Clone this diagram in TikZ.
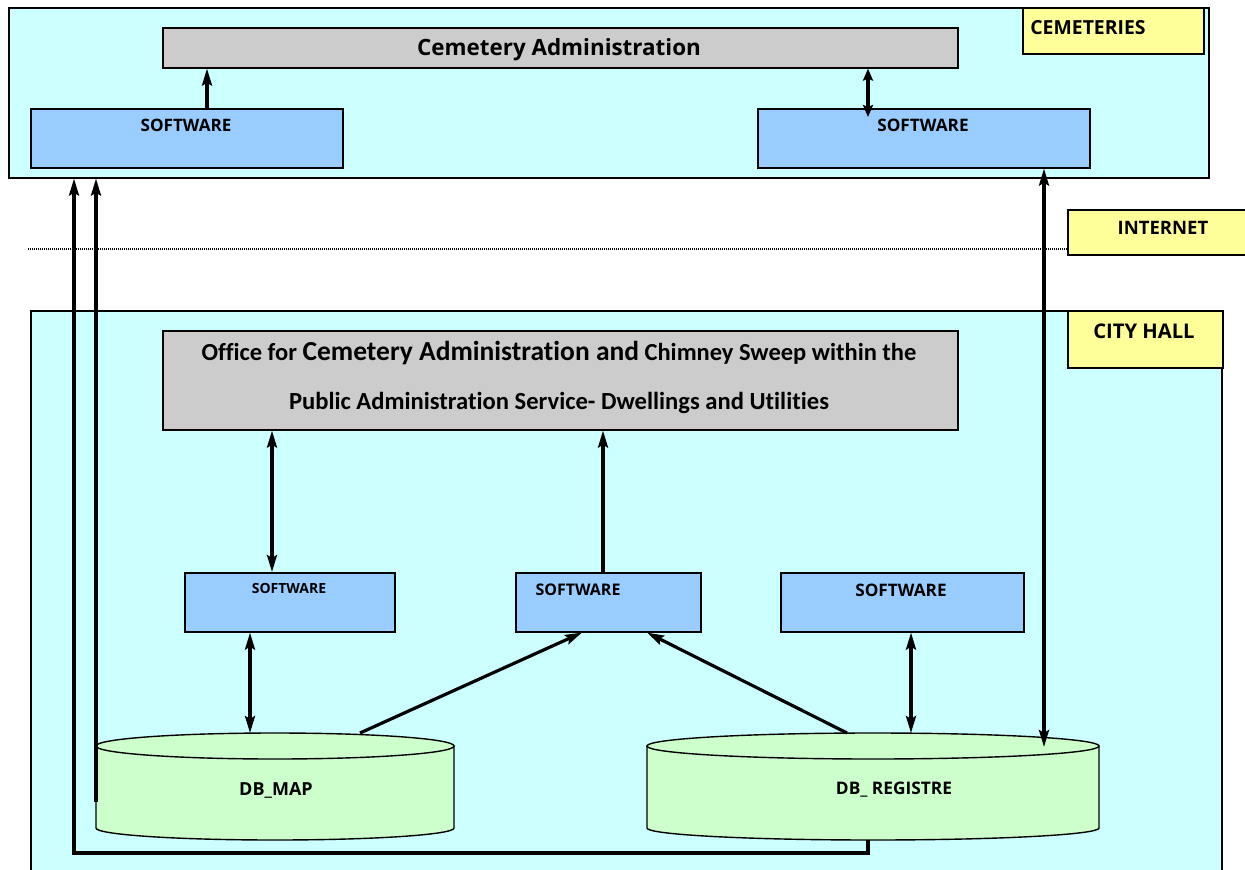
\documentclass[tikz,border=0pt]{standalone}
\usepackage{fontspec}
\setmainfont{Open Sans}[Ligatures=NoCommon]
\newfontfamily\calfont{Carlito}[Ligatures=NoCommon]
\usetikzlibrary{arrows.meta}

\definecolor{zonefill}{HTML}{CCFFFF}
\definecolor{adminfill}{HTML}{CCCCCC}
\definecolor{softfill}{HTML}{99CCFF}
\definecolor{tagfill}{HTML}{FFFF99}
\definecolor{dbfill}{HTML}{CCFFCC}

\tikzset{
  box/.style={draw=black, line width=1.6pt, inner sep=0pt, anchor=north west},
  zone/.style={box, fill=zonefill},
  admin/.style={box, fill=adminfill},
  soft/.style={box, fill=softfill},
  tag/.style={box, fill=tagfill},
  lbl/.style={font=\bfseries, inner sep=0pt},
  link/.style={line width=3.2pt},
  arr/.style={link, -{Stealth[length=17pt,width=10pt,inset=3pt]}},
  darr/.style={link, {Stealth[length=17pt,width=10pt,inset=3pt]}-{Stealth[length=17pt,width=10pt,inset=3pt]}},
  sarr/.style={link, {Stealth[length=12pt,width=10pt,inset=2pt]}-{Stealth[length=12pt,width=10pt,inset=2pt]}},
  db/.style={draw=black, line width=1.4pt, fill=dbfill},
}

\begin{document}
\begin{tikzpicture}[x=1pt,y=-1pt]
\useasboundingbox (0,0) rectangle (1245,870);
\clip (0,0) rectangle (1245,870);

% ---------- cemeteries ----------
\node[zone, minimum width=1200pt, minimum height=170pt] (cemzone) at (8,7) {};
\node[admin, minimum width=795pt, minimum height=40pt] (cemadmin) at (162,27) {};
\node[lbl, font=\bfseries\fontsize{22.4}{26}\selectfont] (cemadmintxt) at (559,50) {Cemetery Administration};
\node[tag, minimum width=181pt, minimum height=46pt] (cemtag) at (1022,7) {};
\node[lbl, font=\bfseries\fontsize{19.4}{23}\selectfont] (cemtagtxt) at (1088,28) {CEMETERIES};
\node[soft, minimum width=312pt, minimum height=59pt] (swa) at (30,108) {};
\node[lbl, font=\bfseries\fontsize{17.1}{20}\selectfont] (swatxt) at (186,125) {SOFTWARE};
\node[soft, minimum width=332pt, minimum height=59pt] (swb) at (757,108) {};
\node[lbl, font=\bfseries\fontsize{17.2}{20}\selectfont] (swbtxt) at (923,125) {SOFTWARE};

% ---------- internet ----------
\node[tag, minimum width=190pt, minimum height=45pt] (nettag) at (1067,209) {};
\node[lbl, font=\bfseries\fontsize{18.5}{22}\selectfont] (nettagtxt) at (1163,228) {INTERNET};
\coordinate (netstart) at (28,249);
\coordinate (netend) at (1067,249);
\draw[line width=1.8pt, dash pattern=on 1pt off 1pt] (netstart) -- (netend);

% ---------- city hall ----------
\node[zone, minimum width=1191pt, minimum height=580pt] (hallzone) at (30,310) {};
\node[tag, minimum width=155pt, minimum height=57pt] (halltag) at (1067,310) {};
\node[lbl, font=\bfseries\fontsize{20.2}{24}\selectfont] (halltagtxt) at (1144,331) {CITY HALL};
\node[admin, minimum width=795pt, minimum height=99pt] (office) at (162,330) {};
\node[lbl, font=\calfont\bfseries\fontsize{24.5}{28}\selectfont] (officeA) at (559,353)
  {Office for {\fontsize{27.5}{30}\selectfont Cemetery Administration and} Chimney Sweep within the};
\node[lbl, font=\calfont\bfseries\fontsize{24.6}{28}\selectfont] (officeB) at (559,403)
  {Public Administration Service- Dwellings and Utilities};

\node[soft, minimum width=210pt, minimum height=59pt] (swc) at (184,572) {};
\node[lbl, font=\bfseries\fontsize{14}{17}\selectfont] (swctxt) at (289,588) {SOFTWARE};
\node[soft, minimum width=185pt, minimum height=59pt] (swd) at (515,572) {};
\node[lbl, font=\bfseries\fontsize{16}{19}\selectfont] (swdtxt) at (578,590) {SOFTWARE};
\node[soft, minimum width=243pt, minimum height=59pt] (swe) at (780,572) {};
\node[lbl, font=\bfseries\fontsize{17.2}{20}\selectfont] (swetxt) at (901,590) {SOFTWARE};

% ---------- databases ----------
% DB_MAP: left 96, right 454, top rim at 746, bottom rim at 828
\path[db] (96,746) -- (96,828) arc[start angle=180, end angle=360, x radius=179pt, y radius=12pt] -- (454,746) -- cycle;
\draw[db] (275,746) ellipse [x radius=179pt, y radius=13pt];
\node[lbl, font=\bfseries\fontsize{18}{21}\selectfont] (dbmap) at (276,790) {DB\_MAP};
% DB_REGISTRE: left 647, right 1099
\path[db] (647,746) -- (647,828) arc[start angle=180, end angle=360, x radius=226pt, y radius=12pt] -- (1099,746) -- cycle;
\draw[db] (873,746) ellipse [x radius=226pt, y radius=13pt];
\node[lbl, font=\bfseries\fontsize{17.3}{21}\selectfont] (dbreg) at (894,790) {DB\_ REGISTRE};

\coordinate (maptop) at (250,733);
\coordinate (mapout) at (360,733);
\coordinate (mapside) at (96,802);
\coordinate (regout) at (847,733);
\coordinate (regtop) at (911,733);
\coordinate (regrim) at (1044,747);
\coordinate (regbase) at (868,840);
\coordinate (swbin) at (868,117);

% ---------- connectors ----------
\draw[arr] (207,0 |- swa.north) -- (207,0 |- cemadmin.south);
\draw[sarr] (868,0 |- cemadmin.south) -- (swbin);
\draw[arr] (mapside) -- (96,0 |- cemzone.south);
\draw[arr] (regbase) -- (868,853) -- (74,853) -- (74,0 |- cemzone.south);
\draw[darr] (1044,0 |- swb.south) -- (regrim);

\draw[darr] (272,0 |- office.south) -- (272,0 |- swc.north);
\draw[arr] (603,0 |- swd.north) -- (603,0 |- office.south);
\draw[darr] (250,0 |- swc.south) -- (maptop);
\draw[arr] (mapout) -- (582,0 |- swd.south);
\draw[arr] (regout) -- (647,0 |- swd.south);
\draw[darr] (911,0 |- swe.south) -- (regtop);
\end{tikzpicture}
\end{document}
